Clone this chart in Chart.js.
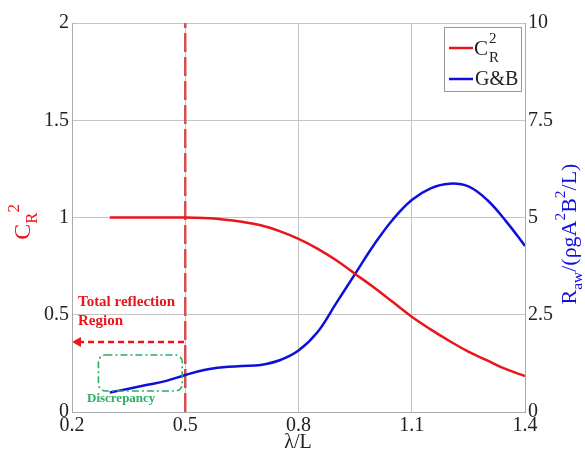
<!DOCTYPE html>
<html>
<head>
<meta charset="utf-8">
<script src="https://cdn.jsdelivr.net/npm/chart.js@4/dist/chart.umd.min.js"></script>
<style>
  body { margin: 0; background: #fff; }
  #wrap { width: 585px; height: 450px; }
</style>
</head>
<body>
<div id="wrap"><canvas id="crChart" width="585" height="450"></canvas></div>
<script>
// wave length ratio and the two curves
var lambda = [0.3, 0.35, 0.4, 0.45, 0.5, 0.55, 0.6, 0.65, 0.7, 0.75, 0.8, 0.85, 0.9, 0.95, 1.0, 1.05, 1.1, 1.15, 1.2, 1.25, 1.3, 1.35, 1.4];
var cr2 = [1, 1, 1, 1, 1, 0.997, 0.99, 0.978, 0.96, 0.93, 0.89, 0.84, 0.78, 0.71, 0.64, 0.565, 0.49, 0.425, 0.365, 0.31, 0.265, 0.22, 0.185];
var gb = [0.5, 0.6, 0.7, 0.8, 0.95, 1.08, 1.15, 1.18, 1.21, 1.33, 1.58, 2.05, 2.8, 3.55, 4.3, 4.95, 5.45, 5.75, 5.87, 5.8, 5.45, 4.9, 4.27];

var xTicks = [0.2, 0.5, 0.8, 1.1, 1.4];
var leftTicks = [0, 0.5, 1, 1.5, 2];
var rightTicks = [0, 2.5, 5, 7.5, 10];

// vertical limit and the arrow of the total reflection region
var limitX = [0.5, 0.5];
var limitY = [0, 2];
var arrowX = [0.216, 0.5];
var arrowY = [0.36, 0.36];
// discrepancy box corners in axis units
var boxX = [0.27, 0.492];
var boxY = [0.108, 0.293];

var serif = "'Liberation Serif', 'Times New Roman', serif";
var RED = 'rgb(235,20,25)';
var BLUE = 'rgb(15,15,220)';
var GREEN = 'rgb(40,175,100)';

function pts(xs, ys) {
    var out = [];
    for (let i = 0; i < xs.length; i++) out.push({x: xs[i], y: ys[i]});
    return out;
}

// draws text pieces with sub / superscripts along a (possibly rotated) baseline
function richText(ctx, parts, x, y, size, color, angle) {
    ctx.save();
    ctx.translate(x, y);
    ctx.rotate(angle || 0);
    ctx.fillStyle = color;
    ctx.textBaseline = 'middle';
    let total = 0;
    parts.forEach(function (p) {
        ctx.font = (p.s ? size * 0.7 : size) + 'px ' + serif;
        total += ctx.measureText(p.t).width;
    });
    let cx = angle ? -total / 2 : 0;
    parts.forEach(function (p) {
        let fs = p.s ? size * 0.7 : size;
        ctx.font = fs + 'px ' + serif;
        let dy = p.s == 'sub' ? size * 0.35 : (p.s == 'sup' ? -size * 0.4 : 0);
        ctx.fillText(p.t, cx, dy);
        cx += ctx.measureText(p.t).width;
    });
    ctx.restore();
}

var extras = {
    id: 'extras',
    afterDatasetsDraw: function (chart) {
        var ctx = chart.ctx;
        var xs = chart.scales.x, ys = chart.scales.y;

        // green dash-dot box
        var x0 = xs.getPixelForValue(boxX[0]), x1 = xs.getPixelForValue(boxX[1]);
        var y0 = ys.getPixelForValue(boxY[1]), y1 = ys.getPixelForValue(boxY[0]);
        ctx.save();
        ctx.strokeStyle = GREEN;
        ctx.lineWidth = 1.6;
        ctx.setLineDash([7, 3, 2, 3]);
        ctx.beginPath();
        ctx.roundRect(x0, y0, x1 - x0, y1 - y0, 7);
        ctx.stroke();
        ctx.restore();

        ctx.save();
        ctx.textBaseline = 'middle';
        ctx.fillStyle = RED;
        ctx.font = 'bold 15px ' + serif;
        ctx.fillText('Total reflection', 78, 302);
        ctx.fillText('Region', 78, 321);
        ctx.fillStyle = GREEN;
        ctx.font = 'bold 13px ' + serif;
        ctx.fillText('Discrepancy', 87, 399);
        ctx.restore();
    },
    afterDraw: function (chart) {
        var ctx = chart.ctx;

        // legend
        ctx.save();
        ctx.fillStyle = '#fff';
        ctx.fillRect(444, 27, 78, 65);
        ctx.strokeStyle = '#999';
        ctx.lineWidth = 1;
        ctx.strokeRect(444.5, 27.5, 77, 64);
        ctx.lineWidth = 2.5;
        ctx.strokeStyle = RED;
        ctx.beginPath(); ctx.moveTo(449, 48); ctx.lineTo(473, 48); ctx.stroke();
        ctx.strokeStyle = BLUE;
        ctx.beginPath(); ctx.moveTo(449, 79); ctx.lineTo(473, 79); ctx.stroke();
        ctx.fillStyle = '#222';
        ctx.textBaseline = 'middle';
        ctx.font = '21px ' + serif;
        ctx.fillText('C', 474, 49);
        ctx.font = '15px ' + serif;
        ctx.fillText('2', 489, 39);
        ctx.fillText('R', 489, 58);
        ctx.font = '20px ' + serif;
        ctx.fillText('G&B', 475, 80);
        ctx.restore();

        // axis titles
        richText(ctx, [{t: 'C'}, {t: 'R', s: 'sub'}, {t: '2', s: 'sup'}], 24, 222, 24, RED, -Math.PI / 2);
        richText(ctx, [{t: 'R'}, {t: 'aw', s: 'sub'}, {t: '/(ρgA'}, {t: '2', s: 'sup'}, {t: 'B'}, {t: '2', s: 'sup'}, {t: '/L)'}],
            570, 234, 22, BLUE, -Math.PI / 2);
        ctx.save();
        ctx.fillStyle = '#222';
        ctx.font = '20px ' + serif;
        ctx.textAlign = 'center';
        ctx.textBaseline = 'middle';
        ctx.fillText('λ/L', 298, 443);
        ctx.restore();
    }
};

var tickFont = {family: serif, size: 20};

new Chart(document.getElementById('crChart'), {
    type: 'line',
    data: {
        datasets: [
            {
                label: 'C_R^2',
                data: pts(lambda, cr2),
                yAxisID: 'y',
                borderColor: RED,
                borderWidth: 2.5,
                pointRadius: 0,
                tension: 0.4
            },
            {
                label: 'G&B',
                data: pts(lambda, gb),
                yAxisID: 'y2',
                borderColor: BLUE,
                borderWidth: 2.5,
                pointRadius: 0,
                tension: 0.4
            },
            {
                label: 'limit',
                data: pts(limitX, limitY),
                yAxisID: 'y',
                borderColor: 'rgb(215,80,80)',
                borderWidth: 2.5,
                borderDash: [19, 5],
                pointRadius: 0
            },
            {
                label: 'arrow',
                data: pts(arrowX, arrowY),
                yAxisID: 'y',
                borderColor: RED,
                borderWidth: 2.5,
                borderDash: [6, 4],
                pointStyle: 'triangle',
                rotation: -90,
                pointRadius: [5, 0],
                pointBackgroundColor: RED,
                pointBorderColor: RED,
                pointBorderWidth: 1
            }
        ]
    },
    options: {
        responsive: false,
        animation: false,
        layout: {padding: {top: 23, left: 0, right: 0, bottom: 0}},
        plugins: {legend: {display: false}, tooltip: {enabled: false}},
        scales: {
            x: {
                type: 'linear',
                min: 0.2,
                max: 1.4,
                afterFit: function (s) { s.height = 38; },
                afterBuildTicks: function (s) { s.ticks = xTicks.map(function (v) { return {value: v}; }); },
                ticks: {font: tickFont, color: '#222', padding: 2, maxRotation: 0,
                    callback: function (v) { return String(+v.toFixed(1)); }},
                grid: {color: '#c4c4c4', lineWidth: 1, drawTicks: false},
                border: {color: '#aaa'}
            },
            y: {
                position: 'left',
                min: 0,
                max: 2,
                afterFit: function (s) { s.width = 72; },
                afterBuildTicks: function (s) { s.ticks = leftTicks.map(function (v) { return {value: v}; }); },
                ticks: {font: tickFont, color: '#222', padding: 3,
                    callback: function (v) { return String(v); }},
                grid: {color: '#c4c4c4', lineWidth: 1, drawTicks: false},
                border: {color: '#aaa'}
            },
            y2: {
                position: 'right',
                min: 0,
                max: 10,
                afterFit: function (s) { s.width = 60; },
                afterBuildTicks: function (s) { s.ticks = rightTicks.map(function (v) { return {value: v}; }); },
                ticks: {font: tickFont, color: '#222', padding: 3,
                    callback: function (v) { return String(v); }},
                grid: {display: false, drawTicks: false},
                border: {color: '#aaa'}
            }
        }
    },
    plugins: [extras]
});
</script>
</body>
</html>
